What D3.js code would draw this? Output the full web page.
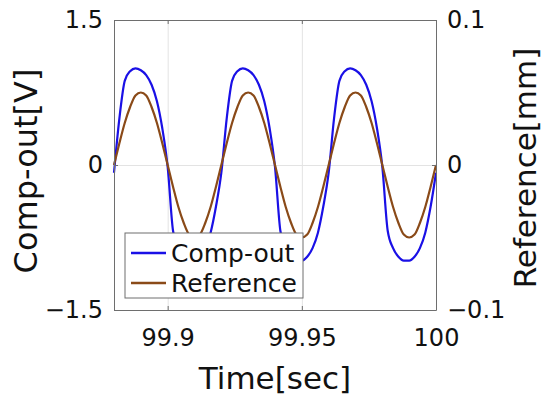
<!DOCTYPE html>
<html>
<head>
<meta charset="utf-8">
<script src="https://cdn.jsdelivr.net/npm/d3@7"></script>
<style>
  body { margin: 0; background: #fff; }
  svg text { font-family: 'DejaVu Sans', sans-serif; fill: #111; }
</style>
</head>
<body>
<svg id="chart" width="550" height="398"></svg>
<script>
// time samples [sec]
const timeSec = [
  99.880, 99.882, 99.884, 99.886, 99.888, 99.890, 99.892, 99.894, 99.896, 99.898,
  99.900, 99.902, 99.904, 99.906, 99.908, 99.910, 99.912, 99.914, 99.916, 99.918,
  99.920, 99.922, 99.924, 99.926, 99.928, 99.930, 99.932, 99.934, 99.936, 99.938,
  99.940, 99.942, 99.944, 99.946, 99.948, 99.950, 99.952, 99.954, 99.956, 99.958,
  99.960, 99.962, 99.964, 99.966, 99.968, 99.970, 99.972, 99.974, 99.976, 99.978,
  99.980, 99.982, 99.984, 99.986, 99.988, 99.990, 99.992, 99.994, 99.996, 99.998,
  100.000
];

// Comp-out [V] (left axis)
const compOut = [
  -0.08, 0.48, 0.87, 0.97, 1.00, 0.98, 0.93, 0.83, 0.66, 0.38,
  -0.02, -0.68, -0.86, -0.95, -0.99, -0.99, -0.95, -0.86, -0.70, -0.43,
  -0.08, 0.48, 0.87, 0.97, 1.00, 0.98, 0.93, 0.83, 0.66, 0.38,
  -0.02, -0.68, -0.86, -0.95, -0.99, -0.99, -0.95, -0.86, -0.70, -0.43,
  -0.08, 0.48, 0.87, 0.97, 1.00, 0.98, 0.93, 0.83, 0.66, 0.38,
  -0.02, -0.68, -0.86, -0.95, -0.99, -0.99, -0.95, -0.86, -0.70, -0.43,
  -0.08
];

// Reference [mm] (right axis)
const reference = [
  0, 0.015, 0.029, 0.040, 0.048, 0.050, 0.048, 0.040, 0.029, 0.015,
  0, -0.015, -0.029, -0.040, -0.048, -0.050, -0.048, -0.040, -0.029, -0.015,
  0, 0.015, 0.029, 0.040, 0.048, 0.050, 0.048, 0.040, 0.029, 0.015,
  0, -0.015, -0.029, -0.040, -0.048, -0.050, -0.048, -0.040, -0.029, -0.015,
  0, 0.015, 0.029, 0.040, 0.048, 0.050, 0.048, 0.040, 0.029, 0.015,
  0, -0.015, -0.029, -0.040, -0.048, -0.050, -0.048, -0.040, -0.029, -0.015,
  0
];

const xTicks = [99.9, 99.95, 100];
const xTickLabels = ['99.9', '99.95', '100'];
const leftTicks = [-1.5, 0, 1.5];
const leftTickLabels = ['\u22121.5', '0', '1.5'];
const rightTicks = [-0.1, 0, 0.1];
const rightTickLabels = ['\u22120.1', '0', '0.1'];
const seriesNames = ['Comp-out', 'Reference'];

const width = 550,
  height = 398,
  margins = { left: 114, right: 114, top: 20, bottom: 88 };

const vis = d3.select('#chart');

const xScale = d3.scaleLinear()
    .domain([99.88, 100])
    .range([margins.left, width - margins.right]),
  yLeft = d3.scaleLinear()
    .domain([-1.5, 1.5])
    .range([height - margins.bottom, margins.top]),
  yRight = d3.scaleLinear()
    .domain([-0.1, 0.1])
    .range([height - margins.bottom, margins.top]);

const plotW = width - margins.left - margins.right,
  plotH = height - margins.top - margins.bottom;

// gridlines
vis.append('g')
  .attr('class', 'grid')
  .attr('transform', 'translate(0,' + (height - margins.bottom) + ')')
  .call(d3.axisBottom(xScale).tickValues(xTicks).tickSize(-plotH).tickFormat('').tickSizeOuter(0));
vis.append('g')
  .attr('class', 'grid')
  .attr('transform', 'translate(' + margins.left + ',0)')
  .call(d3.axisLeft(yLeft).tickValues(leftTicks).tickSize(-plotW).tickFormat('').tickSizeOuter(0));
vis.selectAll('.grid .domain').remove();
vis.selectAll('.grid line').attr('stroke', '#e3e3e3').attr('stroke-width', 1);

// lines
const lineComp = d3.line()
  .x((d, i) => xScale(timeSec[i]))
  .y(d => yLeft(d))
  .curve(d3.curveMonotoneX);
const lineRef = d3.line()
  .x((d, i) => xScale(timeSec[i]))
  .y(d => yRight(d))
  .curve(d3.curveMonotoneX);

vis.append('path')
  .attr('d', lineComp(compOut))
  .attr('fill', 'none')
  .attr('stroke', '#1a10e6')
  .attr('stroke-width', 2.2);
vis.append('path')
  .attr('d', lineRef(reference))
  .attr('fill', 'none')
  .attr('stroke', '#8a4a18')
  .attr('stroke-width', 2.2);

// axes (ticks pointing inward)
const axisColor = '#6e6e6e';
const fontSize = 24;

const xAxis = vis.append('g')
  .attr('transform', 'translate(0,' + (height - margins.bottom) + ')')
  .call(d3.axisBottom(xScale).tickValues(xTicks)
    .tickFormat((d, i) => xTickLabels[i])
    .tickSizeInner(-4).tickSizeOuter(0).tickPadding(19));
const xTop = vis.append('g')
  .attr('transform', 'translate(0,' + margins.top + ')')
  .call(d3.axisTop(xScale).tickValues(xTicks).tickFormat('')
    .tickSizeInner(-4).tickSizeOuter(0));
const yAxisL = vis.append('g')
  .attr('transform', 'translate(' + margins.left + ',0)')
  .call(d3.axisLeft(yLeft).tickValues(leftTicks)
    .tickFormat((d, i) => leftTickLabels[i])
    .tickSizeInner(-4).tickSizeOuter(0).tickPadding(11));
const yAxisR = vis.append('g')
  .attr('transform', 'translate(' + (width - margins.right) + ',0)')
  .call(d3.axisRight(yRight).tickValues(rightTicks)
    .tickFormat((d, i) => rightTickLabels[i])
    .tickSizeInner(-4).tickSizeOuter(0).tickPadding(11));

[xAxis, xTop, yAxisL, yAxisR].forEach(g => {
  g.select('.domain').attr('stroke', axisColor);
  g.selectAll('.tick line').attr('stroke', axisColor);
  g.selectAll('text')
    .style('font-size', fontSize + 'px')
    .style('font-family', "'DejaVu Sans', sans-serif")
    .attr('fill', '#111');
});

// axis titles
vis.append('text')
  .attr('x', (margins.left + width - margins.right) / 2)
  .attr('y', 389)
  .attr('text-anchor', 'middle')
  .style('font-size', '31px')
  .text('Time[sec]');
vis.append('text')
  .attr('transform', 'translate(37,' + 171 + ') rotate(-90)')
  .attr('text-anchor', 'middle')
  .style('font-size', '32px')
  .text('Comp-out[V]');
vis.append('text')
  .attr('transform', 'translate(536,' + 168 + ') rotate(-90)')
  .attr('text-anchor', 'middle')
  .style('font-size', '31px')
  .text('Reference[mm]');

// legend
const legend = vis.append('g').attr('transform', 'translate(125,233)');
legend.append('rect')
  .attr('width', 178)
  .attr('height', 65)
  .attr('fill', '#fff')
  .attr('stroke', axisColor);
const legendColors = ['#1a10e6', '#8a4a18'];
seriesNames.forEach((name, i) => {
  const row = legend.append('g').attr('transform', 'translate(0,' + (20 + i * 30) + ')');
  row.append('line')
    .attr('x1', 6).attr('x2', 41)
    .attr('stroke', legendColors[i])
    .attr('stroke-width', 2.5);
  row.append('text')
    .attr('x', 46)
    .attr('dy', '0.35em')
    .style('font-size', '25px')
    .text(name);
});
</script>
</body>
</html>
